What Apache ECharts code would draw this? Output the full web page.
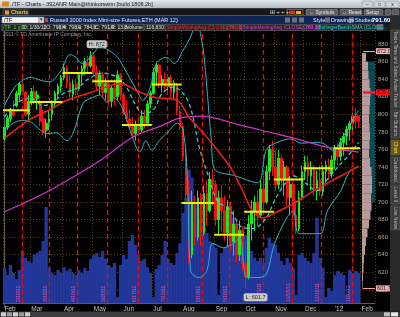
<!DOCTYPE html>
<html><head><meta charset="utf-8">
<script src="https://cdn.jsdelivr.net/npm/echarts@6.0.0/dist/echarts.min.js"></script>
<style>html,body{margin:0;padding:0;background:#000;overflow:hidden}#c{width:400px;height:317px;}</style>
</head><body><div id="c"></div>
<script>
// ---------- DATA ----------
const monthNames = ['Feb','Mar','Apr','May','Jun','Jul','Aug','Sep','Oct','Nov','Dec',"'12",'Feb'];
const monthBars  = [9,11,10,10,10,10,11,10,10,10,10,9,5];

const open = [772,785,795,803,810,822,834,825,800,
 815,826,818,815,795,782,788,800,812,823,832,
 842,853,836,823,834,829,845,852,859,855,
 866,848,832,845,825,835,815,830,820,845,
 822,802,795,786,778,788,782,798,790,812,
 824,848,856,835,840,832,842,825,834,803,
 786,752,710,640,700,660,705,665,710,690,726,
 720,680,705,690,665,695,655,675,640,668,
 630,615,675,690,700,685,715,700,735,760,
 740,720,750,725,740,705,720,685,670,705,
 735,745,730,740,715,725,712,735,742,732,
 748,760,752,768,775,783,790,798,798.4];
const close = [785,796,803,799,824,834,826,800,815,
 826,818,822,792,780,790,800,812,824,832,842,
 853,835,824,834,828,845,852,860,855,866,
 848,832,845,825,835,815,830,820,845,822,
 802,795,785,778,788,782,798,790,812,824,
 848,856,835,840,832,842,825,836,803,786,
 752,708,640,700,660,705,665,710,690,726,720,
 680,705,690,665,695,655,675,640,668,630,
 615,675,690,700,685,715,700,735,760,740,
 720,750,725,740,705,720,685,670,705,735,
 745,730,740,715,725,712,735,742,732,748,
 760,752,768,775,783,790,798,792,791.6];
const low = [770,782,791,797,808,816,822,797,793,
 810,812,805,787,776,773,782,793,807,819,825,
 839,830,819,816,822,827,835,845,848,853,
 845,827,822,819,816,810,808,810,816,816,
 799,791,782,774,770,776,779,784,788,807,
 822,833,830,825,827,822,818,816,799,782,
 747,702,630,636,650,656,650,662,673,688,696,
 673,662,667,656,650,645,639,631,633,622,
 601.7,612,656,667,673,682,690,698,725,730,
 713,715,713,707,696,685,673,664,667,702,
 725,719,713,707,702,707,707,719,725,727,
 738,742,747,753,765,770,779,784,784.6];
const high = [787,799,807,816,827,837,842,827,822,
 830,833,827,817,805,795,805,816,827,835,845,
 858,856,845,839,841,848,856,864,867,872,
 871,856,850,848,841,839,833,839,850,847,
 825,816,805,797,793,799,805,805,816,827,
 853,859,858,845,848,845,845,839,836,810,
 790,759,725,713,707,713,710,719,725,734,738,
 725,713,719,707,702,700,690,679,679,673,
 656,685,702,707,713,725,730,742,765,770,
 759,759,753,747,742,730,722,702,713,742,
 753,753,747,742,736,742,742,747,750,753,
 765,767,773,779,787,793,802,807,798.4];
const volume = [137,109,148,117,94,129,203,176,164,
 156,187,195,203,242,374,137,117,109,129,117,
 140,125,133,117,109,129,117,137,125,172,
 187,195,179,203,172,148,140,156,23,148,
 187,172,242,265,226,187,164,172,140,117,
 23,133,148,187,242,172,156,148,195,234,
 351,410,519,488,390,371,332,293,273,242,234,
 215,31,195,215,226,242,332,273,234,242,
 265,226,203,176,164,176,156,215,254,234,
 226,195,164,148,176,156,137,31,187,195,
 176,164,156,195,332,176,137,23,59,47,
 109,125,117,109,31,129,117,125,117];

const sma50 = [[0,773],[9,795],[15,805],[21,816],[29,825],[39,835],[45,826],[51,819],[58,816],[62,797],[69,770],[76,739],[80,713],[83.5,689],[87,682],[91,688],[97,698],[104,713],[112,728],[119,741]];
const sma200 = [[0,689],[15,713],[32,747],[43,774],[52,786],[59,796],[66,798],[79,788],[91,778],[96,774],[109,762],[119,757]];
const bbUpper = [[0,810],[4,833],[9,842],[12,839],[15,837],[19,850],[22,868],[24,865],[26,858],[30,870],[32,877],[35,873],[38,865],[40,854],[42,842],[44.5,827],[46.5,816],[49,831],[51,858],[54.5,865],[57,858],[60,873],[62.5,888],[64.5,905],[66.5,880],[67.5,850],[68.5,810],[69.5,770],[70.5,738],[77.5,730],[85,722],[88,760],[91,767],[96,772],[100,767],[103.5,768],[107,767],[110.5,759],[114,776],[117,793],[119,805]];
const bbMiddle = [[0,797],[4,813],[9,818],[13,810],[16,813],[20,824],[24.5,830],[28.5,841],[33,847],[38,842],[41,831],[44.5,808],[46.5,801],[50,805],[53,824],[56.5,831],[60,824],[62.5,808],[65.5,762],[69,725],[71.5,702],[76,690],[80,671],[83.5,670],[88,682],[90.5,700],[94,720],[97,730],[101,722],[105,713],[108.5,726],[112,740],[115,751],[119,768]];
const bbLower = [[0,782],[3,790],[6,793],[9,791],[12,782],[14.5,778],[17.5,779],[21,770],[23,778],[26.5,813],[29.5,819],[32,822],[34.5,814],[36.5,819],[39.5,808],[43,774],[45.5,757],[47.5,770],[49.5,759],[52,770],[55.5,782],[58,790],[60,782],[61.5,725],[62.5,622],[65.5,614],[68,622],[70,653],[73.5,648],[77,653],[79,659],[81.5,614],[85,614],[88,618],[90.5,650],[94.5,680],[97,690],[99,664],[106,664],[108.5,690],[113,713],[116,735],[119,740]];

const monthlyLevel = [804.6,814,847,837.7,788,834,699,662.9,689,725.7,738.6,761.5];
const expiryIndex  = [5.9,15,24.4,34.5,44.9,54.6,66.4,75.5,86.9,96.6,106.4,116.8];
const expiryLabels = ['2/18/11','3/18/11','4/15/11','5/20/11','6/17/11','7/15/11','8/19/11','9/16/11','10/21/11','11/18/11','12/16/11','1/20/12'];

const profileLevels = [580,590,600,610,620,630,640,650,660,670,680,690,700,710,720,730,740,750,760,770,780,790,800,810,820,830,840,850,860,870,880,890];
const profileVolume = [0,0,0.5,1,1.5,2,3,4,5.5,7,8.5,9.5,9,10,10,9.5,8,7,7.5,8,7.5,7,7.5,8,8.5,7.5,6.5,6,4,0,0,0];
const valueArea = [700, 860];

const tagValues = [872.0, 825.0, 805.5, 791.6, 772.6, 761.5, 739.4, 601.7];
const tagFill   = ['#f2b2b2','#ff1a1a','#22dde8','#ff2020','#22dde8','#f2f200','#22dde8','#f2b2b2'];
const tagLine   = ['#e8a6a6','#ff1a1a',null,null,null,null,null,'#e8a6a6'];

// ---------- BUILD ----------
const categories = [], monthStarts = [];
monthBars.forEach((n, m) => { monthStarts.push(categories.length); for (let j = 0; j < n; j++) categories.push(m + ':' + j); });
monthStarts.push(categories.length);
const ohlc = open.map((o, i) => [o, close[i], low[i], high[i]]);
const NMAX = categories.length - 0.5;

const series = [];
// volume
series.push({type:'bar', xAxisIndex:2, yAxisIndex:1, data: volume, barWidth:3.4, itemStyle:{color:'#22379a'}, z:1, silent:true});
// expiration lines
series.push({type:'line', xAxisIndex:3, yAxisIndex:1, data:[[0,0]], showSymbol:false, lineStyle:{opacity:0}, z:3, silent:true,
  markLine:{silent:true, symbol:'none', animation:false,
    lineStyle:{color:'#d81212', type:[5,3], width:1.3},
    label:{position:'insideStartTop', color:'#e2559e', fontSize:5, distance:1, fontFamily:'Liberation Sans'},
    data: expiryIndex.map((v,k)=>({xAxis:v, label:{formatter:expiryLabels[k]}}))}});
// profile
series.push({type:'bar', xAxisIndex:4, yAxisIndex:2, barCategoryGap:'0%', barGap:'-100%', silent:true, z:1,
  data: profileLevels.map(p => (p >= valueArea[0] && p < valueArea[1]) ? 13 : 0), itemStyle:{color:'#0c4a52'}});
series.push({type:'bar', xAxisIndex:4, yAxisIndex:2, barCategoryGap:'0%', barGap:'-100%', silent:true, z:2,
  data: profileVolume, itemStyle:{color:'#b69a9c'}});
// candles
series.push({type:'candlestick', xAxisIndex:0, yAxisIndex:0, data: ohlc, barWidth:2.2, z:4,
  itemStyle:{color:'#1ee81e', color0:'#ee1414', borderColor:'#1ee81e', borderColor0:'#ee1414', borderWidth:1},
  markPoint:{symbol:'rect', symbolSize:1, itemStyle:{color:'rgba(0,0,0,0)'}, animation:false,
    label:{show:true, color:'#222', backgroundColor:'#c9c9c9', borderRadius:2, padding:[1,2], fontSize:5.5, fontFamily:'Liberation Sans',
      formatter: p => p.name + ': ' + p.value},
    data:[{type:'max', valueDim:'highest', name:'H', label:{offset:[6,-7]}},
          {type:'min', valueDim:'lowest', name:'L', label:{offset:[10,9]}}]}});
// bollinger
const lineBase = {type:'line', xAxisIndex:1, yAxisIndex:0, showSymbol:false, smooth:0.35, silent:true, z:5};
series.push(Object.assign({}, lineBase, {data: bbUpper, lineStyle:{color:'#2ab6c2', width:1}}));
series.push(Object.assign({}, lineBase, {data: bbLower, lineStyle:{color:'#2ab6c2', width:1}}));
series.push(Object.assign({}, lineBase, {data: bbMiddle, lineStyle:{color:'#33d6e6', width:1.2, type:[4,3]}}));
series.push(Object.assign({}, lineBase, {data: sma200, lineStyle:{color:'#cf35cf', width:1.2}}));
series.push(Object.assign({}, lineBase, {data: sma50, lineStyle:{color:'#ee1c1c', width:1.5}, z:6,
  markLine:{silent:true, symbol:'none', animation:false,
    label:{show:true, position:'end', distance:1, fontSize:5.5, fontFamily:'Liberation Sans', padding:[0,1]},
    data: tagValues.map((v,k)=>[
      {xAxis:120.5, yAxis:v, lineStyle:{color: tagLine[k] || '#000', opacity: tagLine[k] ? 1 : 0, width: k===1 ? 2.5 : 1, type:'solid'},
       label:{formatter: v.toFixed(1), backgroundColor: tagFill[k], color: (k===1||k===3) ? '#3a0000' : '#102030'}},
      {xAxis:124.5, yAxis:v}])}}));
// monthly yellow levels
monthlyLevel.forEach((lv, m) => {
  series.push(Object.assign({}, lineBase, {smooth:false, z:7,
    data:[[monthStarts[m]-0.5, lv],[monthStarts[m+1]-0.5, lv]], lineStyle:{color:'#f2f200', width:2}}));
});

// ---------- CHROME (graphics) ----------
const g = [];
const F = 'Liberation Sans, sans-serif';
function rect(x,y,w,h,fill,stroke,r){ g.push({type:'rect', z:100, shape:{x,y,width:w,height:h,r:r||0}, style:{fill, stroke: stroke||null, lineWidth: stroke?0.6:0}}); }
function text(x,y,t,fill,size,o){ o=o||{}; g.push({type:'text', z:101, x, y, rotation:o.rot||0, style:{text:t, x:0, y:0, fill, font:(o.bold?'bold ':'')+size+'px '+F, verticalAlign:'middle', align:o.align||'left'}}); }

// title bar
g.push({type:'rect', z:100, shape:{x:0,y:0,width:400,height:8.5}, style:{fill:new echarts.graphic.LinearGradient(0,0,0,1,[{offset:0,color:'#e4e8ee'},{offset:1,color:'#aeb6c4'}])}});
rect(2,1.5,7,5,'#d68a22');
text(12,4.4,'/TF - Charts - 392ANR Main@thinkorswim [build 1808.2b]','#1b1b1b',5.5);
rect(362,1,11,6.5,'#ccd2dc','#8a93a3',1); text(367.5,4.3,'–','#222',5,{align:'center'});
rect(374,1,11,6.5,'#ccd2dc','#8a93a3',1); text(379.5,4.3,'□','#222',5,{align:'center'});
rect(386,1,13,6.5,'#ccd2dc','#8a93a3',1); text(392.5,4.3,'x','#222',5,{align:'center'});
// row 2
rect(0,8.5,400,7,'#181818');
rect(3,9,25,6.5,'#2c2c2c','#555');
rect(5,10.5,4,4,'#e0a020');
text(11,12.4,'Charts','#f2c444',5.5,{bold:true});
text(270,12.3,'⊞ + + +','#dddddd',5.5);
rect(287,9.5,16,5.5,'#111','#e08a00'); rect(289,10.5,6,3.5,'#e03030'); rect(296,11,5,3,'#e0c000');
rect(306,9.5,32,5.5,'#5c5c5c','#8a8a8a',1); text(309,12.3,'⇔ Symbols','#eeeeee',5);
rect(340,9.5,22,5.5,'#5c5c5c','#8a8a8a',1); text(342,12.3,'⇔ Reset','#eeeeee',5);
rect(364,9.5,19,5.5,'#5c5c5c','#8a8a8a',1); text(366,12.3,'Setup','#eeeeee',5);
rect(385,9.5,6,5.5,'#5c5c5c','#8a8a8a',1); rect(392,9.5,7,5.5,'#5c5c5c','#8a8a8a',1);
// row 3
rect(0,15.3,400,8.2,'#0f2652');
rect(0,15.3,400,0.8,'#3a6ad6');
rect(2,17,37,6,'#f4f4f4','#888'); text(4,20.1,'/TF','#000',5.5);
rect(39,17,5,6,'#cfcfcf','#888'); text(41.5,20,'▾','#222',5,{align:'center'});
rect(45,18,3,4,'#e03030');
text(50,20.1,'Russell 2000 Index Mini-size Futures,ETH (MAR 12)','#e8ecf4',5.5);
rect(285,17.5,5,5,'#6a7080'); rect(292,17.5,5,5,'#6a7080'); rect(299,17.5,5,5,'#6a7080');
text(313,20.1,'Style','#e8ecf4',5.5);
rect(325,17.5,5,5,'#6a7080'); text(331,20.1,'Drawings','#e8ecf4',5.5);
rect(349,17.5,5,5,'#6a7080'); text(355,20.1,'Studies','#e8ecf4',5.5);
text(372,20.1,'791.60','#ffffff',6,{bold:true});
// row 4 info bar
rect(0,23.5,390,7.5,'#1c1c1c');
const cells = [
 [2,19,'/TF  1 y D','#2ee62e'],[22,22,'D: 1/30/12','#e6e6e6'],[45,15,'O: 798.4','#e6e6e6'],[61,15,'H: 798.4','#e6e6e6'],
 [77,16,'L: 784.6','#e6e6e6'],[94,15,'C: 791.6','#e6e6e6'],[110,14,'R: 13.8','#e6e6e6'],[125,19,'Volume','#e6e6e6'],
 [145,19,'116,830','#e6e6e6'],[165,62,'SimpleMovingAvg (CLOSE, 50, 0)','#ff2a2a'],[228,12,'740.6','#ff2a2a'],
 [241,62,'SimpleMovingAvg (CLOSE, 200, 0)','#e040e0'],[304,12,'763.8','#e040e0'],[317,58,'BollingerBandsSMA (CLOSE...','#22d4e4']];
cells.forEach(c => { rect(c[0],24.2,c[1],6.2,'#242424','#777'); text(c[0]+1.2,27.4,c[2],c[3],5); });
rect(377,24.5,6,5.5,'#555','#888');
text(3,35,'2011 © TD Ameritrade IP Company, Inc.','#9a9a9a',5);
// right tab strip
rect(390,15.3,10,296,'#2a2a2a');
const tabs = [[30,44,'Trade'],[46,76,'Time and Sales'],[78,108,'Active Trader'],[110,138,'Btn Buttons'],[140,155,'Chart'],[157,183,'Dashboard'],[185,204,'Level II'],[206,230,'Live News']];
tabs.forEach(t => {
  const hl = t[2]==='Chart';
  rect(391,t[0],8.5,t[1]-t[0], hl ? '#6a5a1e' : '#3a3a3a', '#5a5a5a');
  text(395.3,(t[0]+t[1])/2,t[2], hl ? '#f4d460' : '#bdbdbd', 4.8, {rot:-Math.PI/2, align:'center'});
});
// bottom bar
rect(0,311.5,400,5.5,'#3e3e3e');
rect(1,312.3,5,4,'#cfcfcf'); rect(7,312.3,5,4,'#9a9a9a'); rect(13,312.3,5,4,'#cfcfcf'); rect(19,312.3,5,4,'#9a9a9a'); rect(25,312.3,5,4,'#cfcfcf');
rect(384,312.3,6,4,'#bdbdbd'); rect(391,312.3,7,4,'#e8e8e8');

// ---------- OPTION ----------
const chart = echarts.init(document.getElementById('c'), null, {renderer:'canvas'});
chart.setOption({
  backgroundColor:'#000',
  animation:false,
  grid:[
    {left:3, right:25, top:26.6, bottom:9.6},
    {left:3, right:25, top:31, bottom:14},
    {left:362, right:25, top:26.6, bottom:9.6}
  ],
  xAxis:[
    {type:'category', gridIndex:0, data:categories, show:false, boundaryGap:true},
    {type:'value', gridIndex:0, min:-0.5, max:NMAX, show:false},
    {type:'category', gridIndex:1, data:categories, boundaryGap:true,
      axisLine:{show:true, lineStyle:{color:'#5a5a5a'}}, axisTick:{show:false},
      axisLabel:{interval:(i)=>monthStarts.includes(i), formatter:(v)=>monthNames[+v.split(':')[0]],
        color:'#c6c6c6', fontSize:6.5, fontFamily:'Liberation Sans', align:'left', margin:3},
      splitLine:{show:true, interval:(i)=>monthStarts.includes(i), lineStyle:{color:'#5a3f14', type:[1,2], width:1}}},
    {type:'value', gridIndex:1, min:-0.5, max:NMAX, show:false},
    {type:'value', gridIndex:2, min:0, max:13, show:false}
  ],
  yAxis:[
    {type:'value', gridIndex:0, position:'right', min:580, max:900, interval:20,
      axisLine:{show:true, lineStyle:{color:'#6a5e48'}}, axisTick:{show:false},
      axisLabel:{color:'#b2a68c', fontSize:6, fontFamily:'Liberation Sans', margin:3,
        formatter:(v)=> (v===580||v===900) ? '' : String(v)},
      splitLine:{show:true, showMinLine:false, showMaxLine:false, lineStyle:{color:'#5a3f14', type:[1,2], width:1}}},
    {type:'value', gridIndex:1, min:0, max:1060, show:false},
    {type:'category', gridIndex:2, data:profileLevels.map(String), show:false, boundaryGap:true}
  ],
  graphic:{elements:g},
  series
});
</script>
</body></html>
